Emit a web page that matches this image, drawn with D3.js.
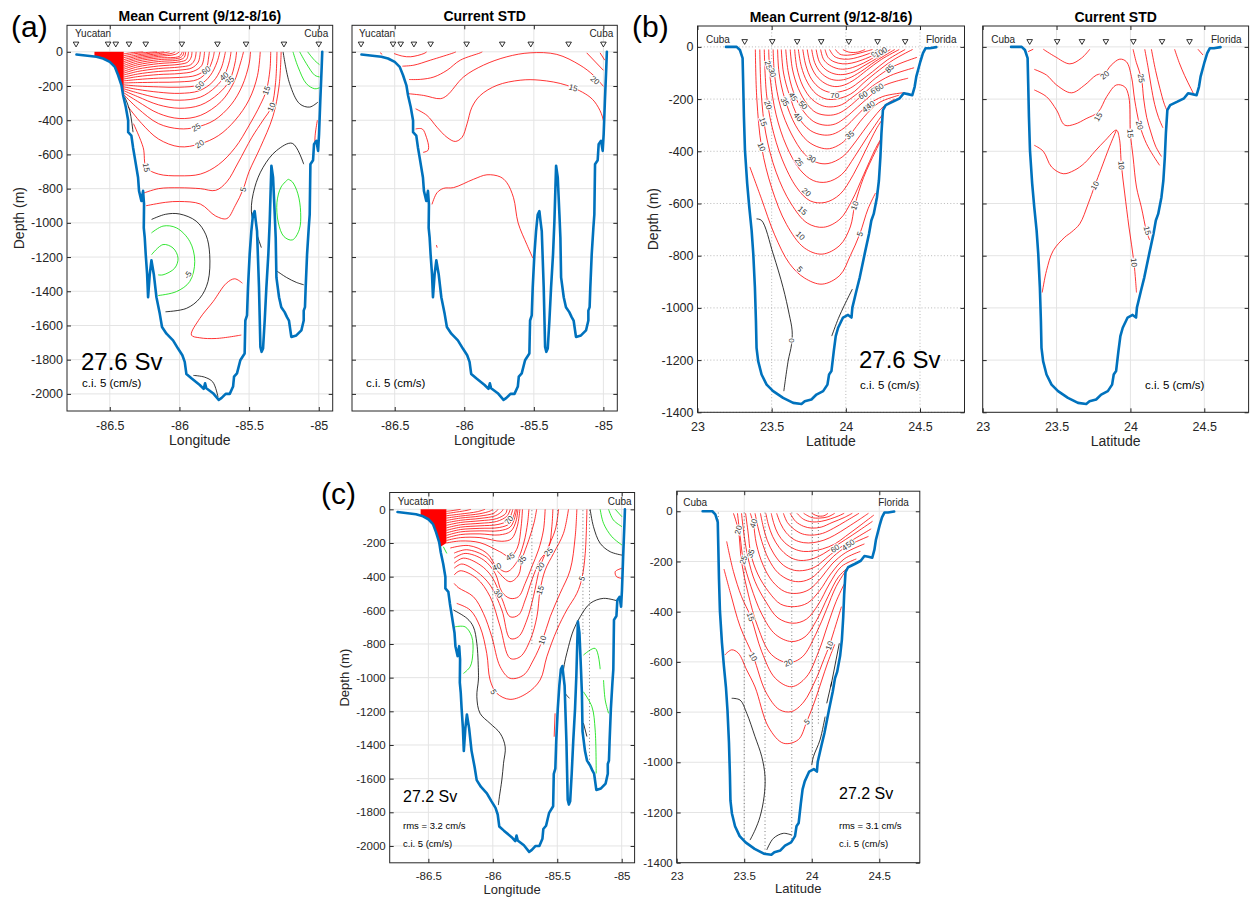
<!DOCTYPE html>
<html>
<head>
<meta charset="utf-8">
<script src="https://cdn.jsdelivr.net/npm/d3@7"></script>
<style>
  body { margin: 0; background: #fff; }
</style>
</head>
<body>
<script>
// ticks
const lonTicks = [-86.5, -86, -85.5, -85];
const latTicks = [23, 23.5, 24, 24.5];
const depthTicksYC = [0, -200, -400, -600, -800, -1000, -1200, -1400, -1600, -1800, -2000];
const depthTicksCF = [0, -200, -400, -600, -800, -1000, -1200, -1400];

// station positions along each section
const stationsYC = [-86.742, -86.512, -86.457, -86.362, -86.242, -85.983, -85.727, -85.522, -85.25, -85.0];
const stationsCF = [23.318, 23.504, 23.672, 23.834, 24.02, 24.214, 24.40];

// bottom topography [lon or lat, depth m]
const bathyYC = [[-86.739,-16],[-86.596,-29],[-86.548,-39],[-86.5,-59],[-86.464,-88],[-86.44,-137],[-86.416,-196],[-86.404,-255],[-86.385,-323],[-86.368,-402],[-86.368,-470],[-86.345,-490],[-86.333,-559],[-86.321,-617],[-86.297,-735],[-86.29,-813],[-86.273,-872],[-86.261,-813],[-86.254,-892],[-86.256,-1029],[-86.249,-1087],[-86.242,-1184],[-86.232,-1300],[-86.225,-1435],[-86.213,-1300],[-86.201,-1219],[-86.184,-1300],[-86.165,-1435],[-86.141,-1532],[-86.125,-1609],[-86.093,-1648],[-86.046,-1687],[-86.01,-1735],[-85.979,-1774],[-85.962,-1813],[-85.95,-1884],[-85.914,-1909],[-85.854,-1948],[-85.826,-1971],[-85.816,-1938],[-85.807,-1967],[-85.759,-1996],[-85.718,-2035],[-85.699,-2025],[-85.668,-2000],[-85.639,-2000],[-85.615,-1957],[-85.608,-1899],[-85.587,-1880],[-85.563,-1803],[-85.532,-1764],[-85.527,-1571],[-85.515,-1541],[-85.508,-1377],[-85.496,-1184],[-85.484,-1048],[-85.472,-951],[-85.46,-931],[-85.452,-990],[-85.443,-1048],[-85.429,-1377],[-85.419,-1725],[-85.41,-1754],[-85.4,-1735],[-85.388,-1571],[-85.376,-1377],[-85.362,-1184],[-85.352,-990],[-85.345,-800],[-85.34,-666],[-85.328,-735],[-85.316,-951],[-85.309,-1087],[-85.304,-1319],[-85.285,-1435],[-85.269,-1493],[-85.245,-1522],[-85.228,-1551],[-85.214,-1571],[-85.197,-1667],[-85.161,-1658],[-85.125,-1629],[-85.108,-1571],[-85.108,-1513],[-85.099,-1493],[-85.094,-1377],[-85.084,-1184],[-85.072,-1029],[-85.065,-951],[-85.06,-657],[-85.041,-634],[-85.034,-540],[-85.017,-520],[-85.005,-579],[-84.998,-481],[-84.989,-284],[-84.979,-88],[-84.975,0]];

const bathyCF = [[23.192,0],[23.264,0],[23.286,-12],[23.304,-43],[23.308,-140],[23.313,-268],[23.32,-396],[23.335,-524],[23.349,-614],[23.365,-704],[23.376,-793],[23.387,-922],[23.394,-1050],[23.398,-1153],[23.409,-1204],[23.432,-1255],[23.466,-1294],[23.51,-1319],[23.577,-1345],[23.645,-1364],[23.701,-1368],[23.723,-1358],[23.768,-1351],[23.802,-1332],[23.847,-1319],[23.876,-1294],[23.887,-1255],[23.903,-1242],[23.919,-1165],[23.932,-1108],[23.948,-1076],[23.981,-1037],[24.015,-1027],[24.038,-1037],[24.044,-999],[24.071,-935],[24.094,-883],[24.127,-793],[24.156,-717],[24.172,-665],[24.188,-640],[24.21,-576],[24.223,-512],[24.233,-422],[24.24,-332],[24.25,-242],[24.269,-223],[24.318,-210],[24.363,-197],[24.39,-178],[24.419,-181],[24.448,-185],[24.464,-153],[24.475,-114],[24.493,-76],[24.502,-57],[24.52,-24],[24.538,-5],[24.565,-5],[24.61,-1]];

// contours: [value cm/s, [[x, depth], ...]]
const meanYC = [
  [130, [[-86.40,-12],[-86.34,-5],[-86.26,0]]],
  [125, [[-86.40,-23],[-86.32,-11],[-86.22,-3],[-86.16,0]]],
  [120, [[-86.40,-34],[-86.3,-18],[-86.18,-6],[-86.11,0]]],
  [115, [[-86.40,-46],[-86.3,-26],[-86.15,-11],[-86.07,0]]],
  [110, [[-86.40,-57],[-86.3,-35],[-86.15,-19],[-86.05,-8],[-86.03,0]]],
  [105, [[-86.40,-68],[-86.3,-44],[-86.15,-27],[-86.03,-15],[-86.0,0]]],
  [100, [[-86.40,-80],[-86.3,-54],[-86.15,-36],[-86.0,-26],[-85.98,0]]],
  [95, [[-86.40,-91],[-86.3,-65],[-86.15,-46],[-86.0,-36],[-85.975,-20],[-85.968,0]]],
  [90, [[-86.40,-102],[-86.3,-76],[-86.15,-57],[-86.0,-47],[-85.965,-32],[-85.955,0]]],
  [85, [[-86.40,-114],[-86.3,-88],[-86.15,-69],[-86.0,-59],[-85.95,-45],[-85.935,0]]],
  [80, [[-86.40,-125],[-86.3,-101],[-86.15,-83],[-86.0,-73],[-85.94,-60],[-85.915,-30],[-85.91,0]]],
  [75, [[-86.40,-136],[-86.3,-115],[-86.15,-98],[-86.0,-89],[-85.92,-76],[-85.89,-45],[-85.88,0]]],
  [70, [[-86.40,-148],[-86.3,-130],[-86.15,-115],[-86.0,-107],[-85.91,-94],[-85.865,-60],[-85.85,0]]],
  [65, [[-86.40,-159],[-86.3,-145],[-86.15,-133],[-86.0,-127],[-85.9,-114],[-85.84,-80],[-85.82,0]]],
  [60, [[-86.40,-170],[-86.3,-162],[-86.15,-154],[-86.0,-150],[-85.88,-137],[-85.81,-100],[-85.79,-30],[-85.785,0]]],
  [55, [[-86.40,-182],[-86.3,-180],[-86.15,-178],[-86.0,-176],[-85.87,-162],[-85.8,-115],[-85.76,-40],[-85.75,0]]],
  [50, [[-86.40,-193],[-86.3,-200],[-86.15,-205],[-86.0,-207],[-85.855,-192],[-85.78,-140],[-85.73,-60],[-85.71,0]]],
  [45, [[-86.40,-205],[-86.3,-220],[-86.15,-236],[-86.0,-243],[-85.86,-228],[-85.76,-175],[-85.7,-95],[-85.67,0]]],
  [40, [[-86.40,-216],[-86.3,-240],[-86.15,-270],[-86.0,-283],[-85.85,-265],[-85.74,-205],[-85.68,-143],[-85.64,-50],[-85.63,0]]],
  [35, [[-86.40,-227],[-86.3,-262],[-86.15,-310],[-86.0,-330],[-85.85,-312],[-85.72,-245],[-85.64,-167],[-85.6,-60],[-85.59,0]]],
  [30, [[-86.40,-239],[-86.3,-290],[-86.15,-360],[-86.0,-390],[-85.85,-372],[-85.7,-290],[-85.61,-180],[-85.56,-60],[-85.54,0]]],
  [25, [[-86.40,-250],[-86.3,-330],[-86.15,-420],[-86.0,-450],[-85.88,-441],[-85.75,-400],[-85.63,-310],[-85.55,-200],[-85.5,-70],[-85.49,0]]],
  [20, [[-86.37,-320],[-86.27,-420],[-86.15,-510],[-86.0,-555],[-85.855,-539],[-85.72,-490],[-85.6,-400],[-85.5,-280],[-85.44,-140],[-85.42,0]]],
  [15, [[-86.33,-420],[-86.26,-560],[-86.237,-676],[-86.15,-715],[-86.0,-725],[-85.85,-715],[-85.72,-660],[-85.6,-560],[-85.5,-430],[-85.42,-310],[-85.376,-225],[-85.35,-100],[-85.345,0]]],
  [10, [[-86.27,-830],[-86.15,-800],[-86.0,-795],[-85.85,-800],[-85.74,-810],[-85.66,-760],[-85.58,-650],[-85.48,-500],[-85.4,-400],[-85.34,-323],[-85.31,-180],[-85.3,0]]],
  [5, [[-86.24,-900],[-86.1,-880],[-86.0,-875],[-85.85,-890],[-85.74,-960],[-85.66,-975],[-85.6,-900],[-85.543,-804],[-85.5,-700],[-85.42,-560],[-85.33,-380],[-85.285,-200],[-85.27,0]]],
  [0, [[-86.392,-265],[-86.357,-343],[-86.333,-470]]],
  [0, [[-85.256,0],[-85.209,-186],[-85.137,-304],[-85.065,-323],[-85.006,-294]]],
  [-5, [[-85.185,0],[-85.149,-88],[-85.089,-186],[-85.029,-216],[-84.994,-210]]],
  [-10, [[-85.137,0],[-85.089,-69],[-85.029,-137],[-84.994,-147]]],
  [-15, [[-85.08,0],[-85.03,-50],[-84.995,-75]]],
  [0, [[-85.108,-657],[-85.19,-535],[-85.304,-578],[-85.40,-676],[-85.46,-794],[-85.484,-931],[-85.45,-1050],[-85.412,-1145]]],
  [0, [[-85.304,-1280],[-85.232,-1319],[-85.161,-1348],[-85.108,-1362]]],
  [-5, [[-85.22,-745],[-85.27,-790],[-85.30,-880],[-85.29,-1000],[-85.25,-1080],[-85.19,-1100],[-85.14,-1040],[-85.13,-940],[-85.15,-830],[-85.19,-760],[-85.22,-745]]],
  [0, [[-86.2,-980],[-86.1,-950],[-86.0,-948],[-85.88,-990],[-85.81,-1070],[-85.783,-1184],[-85.795,-1343],[-85.854,-1441],[-85.95,-1500],[-86.1,-1520]]],
  [-5, [[-86.201,-1059],[-86.118,-1019],[-86.022,-1029],[-85.926,-1108],[-85.89,-1225],[-85.926,-1343],[-86.022,-1402],[-86.153,-1425]]],
  [-10, [[-86.2,-1186],[-86.118,-1127],[-86.046,-1147],[-86.01,-1206],[-86.034,-1265],[-86.118,-1304],[-86.153,-1304]]],
  [5, [[-85.548,-1353],[-85.603,-1327],[-85.663,-1353],[-85.759,-1461],[-85.854,-1559],[-85.914,-1656],[-85.854,-1672],[-85.735,-1676],[-85.556,-1656]]],
  [0, [[-85.90,-1892],[-85.82,-1902],[-85.76,-1931],[-85.723,-2019]]],
  [5, [[-85.03,-560],[-85.025,-480],[-85.01,-400]]]
];
const meanYCWedge = [[-86.61,0],[-86.40,0],[-86.40,-265],[-86.5,-265],[-86.61,-40]];

const stdYC = [
  [25, [[-86.605,-5],[-86.59,-15]]],
  [25, [[-86.505,-10],[-86.445,-25],[-86.385,-29],[-86.29,-10],[-86.27,0]]],
  [25, [[-86.445,-84],[-86.362,-78],[-86.244,-49],[-86.077,-6],[-86.06,0]]],
  [20, [[-86.397,-162],[-86.313,-161],[-86.218,-147],[-86.124,-108],[-86.029,-49],[-85.885,-6],[-85.87,0]]],
  [20, [[-86.4,-245],[-86.292,-255],[-86.172,-274],[-86.124,-255],[-86.005,-147],[-85.862,-78],[-85.694,-29],[-85.527,-6],[-85.335,-15],[-85.168,-78],[-85.072,-137],[-85.0,-202]]],
  [15, [[-86.35,-333],[-86.268,-372],[-86.196,-441],[-86.124,-500],[-86.065,-524],[-86.016,-500],[-85.98,-421],[-85.945,-324],[-85.885,-255],[-85.765,-196],[-85.598,-166],[-85.455,-166],[-85.263,-196],[-85.096,-265],[-85.037,-324],[-85.0,-402],[-84.996,-519],[-85.012,-578]]],
  [15, [[-86.35,-451],[-86.302,-451],[-86.272,-500],[-86.256,-559],[-86.263,-578],[-86.296,-588]]],
  [25, [[-85.12,-6],[-85.0,-108]]],
  [30, [[-85.024,-6],[-84.99,-49]]],
  [10, [[-86.232,-892],[-86.196,-824],[-86.148,-798],[-86.077,-794],[-85.933,-745],[-85.837,-719],[-85.742,-731],[-85.694,-765],[-85.646,-853],[-85.613,-1000],[-85.55,-1127],[-85.507,-1206]]],
  [10, [[-86.2,-1130],[-86.195,-1145]]]
];

const meanCF = [
  [5, [[23.353,-460],[23.43,-580],[23.52,-720],[23.62,-830],[23.72,-885],[23.84,-909],[23.96,-875],[24.03,-800],[24.094,-717],[24.15,-620],[24.2,-560]]],
  [10, [[23.39,-10],[23.4,-200],[23.432,-383],[23.5,-540],[23.6,-680],[23.72,-770],[23.84,-794],[23.96,-760],[24.03,-690],[24.06,-608],[24.12,-500],[24.2,-400],[24.26,-330]]],
  [15, [[23.42,-10],[23.43,-180],[23.46,-330],[23.53,-480],[23.63,-600],[23.74,-675],[23.85,-691],[23.96,-660],[24.04,-590],[24.12,-490],[24.2,-390],[24.27,-320]]],
  [20, [[23.45,-10],[23.465,-180],[23.5,-300],[23.57,-430],[23.67,-540],[23.76,-590],[23.86,-596],[23.96,-565],[24.05,-490],[24.13,-400],[24.21,-310],[24.28,-250]]],
  [25, [[23.48,-10],[23.49,-120],[23.53,-260],[23.6,-380],[23.69,-470],[23.78,-512],[23.87,-518],[23.97,-490],[24.06,-420],[24.15,-340],[24.24,-265],[24.3,-220]]],
  [30, [[23.51,-10],[23.52,-110],[23.56,-230],[23.63,-330],[23.72,-410],[23.8,-442],[23.88,-447],[23.98,-420],[24.07,-360],[24.16,-290],[24.26,-225],[24.33,-200]]],
  [35, [[23.54,-10],[23.55,-100],[23.589,-200],[23.66,-300],[23.74,-360],[23.82,-385],[23.89,-390],[23.97,-370],[24.026,-338],[24.12,-270],[24.22,-215],[24.36,-185]]],
  [40, [[23.565,-10],[23.58,-100],[23.62,-185],[23.678,-268],[23.76,-320],[23.84,-337],[23.91,-335],[23.99,-310],[24.08,-260],[24.15,-222],[24.25,-190],[24.4,-175]]],
  [45, [[23.595,-10],[23.61,-90],[23.645,-170],[23.7,-235],[23.78,-285],[23.86,-300],[23.93,-295],[24.0,-270],[24.08,-230],[24.14,-200],[24.25,-150],[24.42,-120]]],
  [50, [[23.625,-10],[23.64,-85],[23.68,-160],[23.74,-220],[23.8,-252],[23.88,-262],[23.95,-255],[24.02,-230],[24.1,-190],[24.18,-150],[24.3,-110],[24.46,-80]]],
  [55, [[23.655,-10],[23.67,-80],[23.71,-150],[23.77,-200],[23.84,-225],[23.9,-230],[23.97,-222],[24.04,-195],[24.12,-160],[24.2,-120],[24.32,-75],[24.48,-40]]],
  [60, [[23.68,-10],[23.7,-75],[23.74,-135],[23.8,-180],[23.87,-200],[23.93,-200],[24.0,-190],[24.06,-170],[24.116,-140],[24.2,-100],[24.32,-50],[24.45,-10]]],
  [65, [[23.71,-10],[23.73,-70],[23.77,-125],[23.83,-160],[23.9,-175],[23.96,-172],[24.03,-158],[24.1,-130],[24.18,-95],[24.28,-50],[24.4,-10]]],
  [70, [[23.74,-10],[23.76,-65],[23.8,-110],[23.86,-140],[23.925,-152],[23.99,-146],[24.06,-125],[24.14,-90],[24.24,-48],[24.36,-10]]],
  [75, [[23.77,-10],[23.79,-60],[23.83,-98],[23.89,-122],[23.95,-128],[24.02,-120],[24.1,-95],[24.2,-55],[24.33,-10]]],
  [80, [[23.80,-10],[23.82,-55],[23.86,-85],[23.92,-103],[23.98,-106],[24.05,-96],[24.13,-70],[24.22,-40],[24.3,-10]]],
  [85, [[23.83,-10],[23.85,-48],[23.89,-70],[23.95,-84],[24.01,-84],[24.08,-72],[24.16,-50],[24.27,-10]]],
  [90, [[23.86,-10],[23.88,-40],[23.92,-57],[23.98,-65],[24.04,-62],[24.11,-50],[24.2,-28],[24.25,-10]]],
  [95, [[23.89,-10],[23.92,-35],[23.96,-45],[24.02,-47],[24.08,-40],[24.15,-27],[24.22,-10]]],
  [100, [[23.93,-10],[23.96,-28],[24.01,-32],[24.07,-27],[24.13,-18],[24.18,-10]]],
  [105, [[23.98,-10],[24.02,-20],[24.08,-20],[24.13,-10]]],
  [0, [[23.398,-659],[23.432,-665],[23.51,-793],[23.577,-922],[23.618,-1024],[23.638,-1088],[23.634,-1140],[23.611,-1204],[23.582,-1319]]],
  [0, [[24.217,-531],[24.194,-640]]],
  [0, [[24.044,-928],[23.99,-990],[23.95,-1040],[23.905,-1108]]]
];

const stdCF = [
  [25, [[23.308,-18],[23.342,-9]]],
  [25, [[23.41,-9],[23.489,-37],[23.59,-65],[23.669,-43],[23.725,-9]]],
  [20, [[23.349,-86],[23.432,-108],[23.5,-146],[23.601,-176],[23.691,-146],[23.77,-108],[23.826,-100],[23.87,-70],[23.928,-47],[23.973,-57],[24.007,-114],[24.029,-204],[24.063,-300],[24.108,-370],[24.153,-415],[24.198,-454]]],
  [15, [[23.349,-165],[23.432,-191],[23.5,-242],[23.556,-300],[23.624,-296],[23.7,-275],[23.781,-250],[23.84,-190],[23.905,-146],[23.961,-153],[23.989,-191],[24.0,-332],[24.018,-422],[24.041,-537],[24.074,-614],[24.108,-704],[24.13,-740]]],
  [10, [[23.349,-377],[23.41,-400],[23.466,-460],[23.545,-486],[23.62,-473],[23.69,-445],[23.76,-400],[23.83,-358],[23.905,-319],[23.925,-350],[23.939,-454],[23.961,-560],[23.99,-690],[24.024,-826],[24.041,-941]]],
  [10, [[23.905,-319],[23.86,-380],[23.8,-470],[23.759,-531],[23.714,-601],[23.657,-678],[23.6,-710],[23.556,-729],[23.477,-781],[23.432,-857],[23.403,-941]]],
  [25, [[24.018,-9],[24.04,-60],[24.074,-120],[24.09,-200],[24.11,-270],[24.14,-330],[24.17,-380],[24.21,-420]]],
  [30, [[24.097,-9],[24.12,-80],[24.14,-150],[24.164,-220],[24.19,-270],[24.22,-310]]],
  [35, [[24.142,-9],[24.17,-90],[24.2,-160],[24.23,-220],[24.26,-260]]],
  [40, [[24.299,-9],[24.33,-60],[24.367,-110],[24.41,-160],[24.446,-200]]],
  [45, [[24.457,-9],[24.491,-31]]]
];

const modelYC = [
  [110, [[-86.36,-12],[-86.3,-6],[-86.25,0]]],
  [105, [[-86.36,-25],[-86.28,-16],[-86.2,-6],[-86.17,0]]],
  [100, [[-86.36,-38],[-86.25,-28],[-86.12,-14],[-86.06,0]]],
  [95, [[-86.36,-52],[-86.25,-40],[-86.1,-26],[-86.02,-10],[-86.0,0]]],
  [90, [[-86.36,-66],[-86.25,-52],[-86.1,-40],[-85.99,-22],[-85.96,0]]],
  [85, [[-86.36,-80],[-86.25,-65],[-86.1,-54],[-85.98,-38],[-85.93,-12],[-85.92,0]]],
  [80, [[-86.36,-95],[-86.25,-78],[-86.1,-68],[-85.97,-55],[-85.9,-25],[-85.89,0]]],
  [75, [[-86.36,-110],[-86.25,-92],[-86.1,-83],[-85.97,-72],[-85.89,-40],[-85.865,0]]],
  [70, [[-86.36,-125],[-86.25,-106],[-86.1,-98],[-85.96,-90],[-85.88,-64],[-85.845,0]]],
  [65, [[-86.36,-140],[-86.25,-120],[-86.1,-113],[-85.95,-108],[-85.87,-85],[-85.835,-30],[-85.825,0]]],
  [60, [[-86.36,-155],[-86.25,-134],[-86.1,-128],[-85.95,-127],[-85.865,-105],[-85.83,-50],[-85.815,0]]],
  [55, [[-86.36,-170],[-86.25,-150],[-86.1,-146],[-85.95,-152],[-85.86,-130],[-85.82,-70],[-85.805,0]]],
  [50, [[-86.36,-185],[-86.25,-168],[-86.1,-168],[-85.93,-190],[-85.855,-175],[-85.81,-100],[-85.79,0]]],
  [45, [[-86.36,-200],[-86.25,-188],[-86.1,-198],[-85.95,-250],[-85.866,-281],[-85.81,-230],[-85.78,-100],[-85.77,0]]],
  [40, [[-86.33,-230],[-86.189,-215],[-86.047,-260],[-85.969,-341],[-85.892,-371],[-85.82,-320],[-85.76,-200],[-85.73,-80],[-85.72,0]]],
  [35, [[-86.3,-260],[-86.202,-240],[-86.047,-285],[-85.96,-370],[-85.866,-430],[-85.8,-390],[-85.775,-301],[-85.72,-180],[-85.68,-80],[-85.66,0]]],
  [30, [[-86.3,-290],[-86.215,-262],[-86.073,-300],[-85.982,-380],[-85.93,-490],[-85.866,-529],[-85.801,-519],[-85.749,-440],[-85.697,-341],[-85.646,-242],[-85.607,-123],[-85.594,0]]],
  [25, [[-86.3,-320],[-86.228,-290],[-86.099,-330],[-86.008,-400],[-85.93,-530],[-85.866,-638],[-85.801,-628],[-85.749,-539],[-85.697,-420],[-85.633,-301],[-85.568,-232],[-85.542,-103],[-85.534,0]]],
  [20, [[-86.3,-350],[-86.241,-325],[-86.125,-370],[-86.021,-450],[-85.93,-598],[-85.866,-767],[-85.801,-757],[-85.736,-658],[-85.685,-519],[-85.633,-341],[-85.581,-242],[-85.516,-123],[-85.49,0]]],
  [15, [[-86.3,-390],[-86.254,-365],[-86.125,-410],[-86.021,-519],[-85.943,-698],[-85.866,-885],[-85.788,-876],[-85.71,-777],[-85.658,-638],[-85.633,-480],[-85.594,-361],[-85.529,-262],[-85.452,-143],[-85.413,0]]],
  [10, [[-86.3,-440],[-86.268,-465],[-86.151,-519],[-86.073,-618],[-86.008,-757],[-85.943,-935],[-85.866,-1004],[-85.762,-985],[-85.685,-895],[-85.615,-777],[-85.555,-638],[-85.478,-499],[-85.4,-361],[-85.361,-163],[-85.348,0]]],
  [5, [[-86.28,-559],[-86.176,-598],[-86.099,-698],[-86.047,-856],[-86.021,-1014],[-85.969,-1093],[-85.866,-1129],[-85.736,-1093],[-85.633,-1014],[-85.581,-876],[-85.503,-717],[-85.426,-598],[-85.348,-499],[-85.309,-410],[-85.283,-262],[-85.27,0]]],
  [0, [[-86.306,-598],[-86.2,-648],[-86.151,-698],[-86.124,-796],[-86.112,-955],[-86.112,-1014],[-86.124,-1113],[-86.099,-1212],[-86.021,-1272],[-85.943,-1331],[-85.904,-1411],[-85.917,-1509],[-85.93,-1608],[-85.949,-1708],[-85.957,-1757]]],
  [-5, [[-86.293,-698],[-86.215,-698],[-86.163,-757],[-86.155,-856],[-86.176,-935],[-86.228,-975]]],
  [-5, [[-86.384,-222],[-86.357,-262]]],
  [0, [[-85.012,-549],[-85.141,-529],[-85.245,-559],[-85.322,-638],[-85.374,-717],[-85.413,-816],[-85.452,-955],[-85.452,-1074],[-85.405,-1123]]],
  [0, [[-85.245,0],[-85.219,-103],[-85.167,-202],[-85.089,-252],[-84.998,-272]]],
  [-5, [[-85.167,0],[-85.141,-83],[-85.076,-163],[-84.998,-212]]],
  [-10, [[-85.102,0],[-85.064,-64],[-84.998,-103]]],
  [-15, [[-85.05,0],[-84.998,-44]]],
  [5, [[-84.998,-350],[-85.05,-370],[-85.04,-400],[-84.998,-410]]],
  [-5, [[-85.297,-866],[-85.206,-826],[-85.167,-950]]],
  [-5, [[-85.297,-1084],[-85.231,-1173],[-85.206,-1311],[-85.198,-1569]]],
  [-5, [[-85.141,-1014],[-85.128,-1133],[-85.102,-1212]]],
  [0, [[-85.297,-1270],[-85.27,-1350]]],
  [5, [[-85.517,-1212],[-85.524,-1351]]]
];
const modelYCWedge = [[-86.56,0],[-86.36,0],[-86.36,-200],[-86.42,-230],[-86.56,-30]];

const modelCF = [
  [5, [[23.357,-572],[23.407,-552],[23.456,-565],[23.518,-632],[23.58,-700],[23.68,-860],[23.79,-924],[23.9,-910],[23.963,-838],[24.02,-760],[24.07,-680],[24.12,-600],[24.17,-530]]],
  [10, [[23.35,-230],[23.4,-330],[23.47,-460],[23.567,-579],[23.66,-720],[23.76,-790],[23.85,-798],[23.94,-760],[24.03,-670],[24.09,-590],[24.13,-535],[24.18,-450],[24.22,-380]]],
  [15, [[23.37,-120],[23.42,-240],[23.48,-340],[23.548,-420],[23.63,-560],[23.73,-665],[23.85,-699],[23.96,-660],[24.05,-560],[24.12,-450],[24.18,-360],[24.24,-290]]],
  [20, [[23.42,-8],[23.456,-74],[23.48,-200],[23.53,-330],[23.6,-460],[23.7,-570],[23.827,-603],[23.93,-580],[24.03,-490],[24.11,-390],[24.18,-300],[24.26,-230]]],
  [25, [[23.45,-8],[23.47,-100],[23.493,-194],[23.55,-300],[23.63,-410],[23.73,-490],[23.85,-519],[23.95,-500],[24.04,-430],[24.12,-340],[24.2,-260],[24.3,-210]]],
  [30, [[23.48,-8],[23.5,-100],[23.53,-190],[23.58,-280],[23.66,-360],[23.75,-425],[23.86,-446],[23.96,-430],[24.05,-370],[24.13,-290],[24.22,-220],[24.33,-190]]],
  [35, [[23.51,-8],[23.53,-90],[23.548,-168],[23.6,-250],[23.68,-320],[23.77,-370],[23.87,-380],[23.97,-365],[24.06,-315],[24.14,-250],[24.24,-190],[24.36,-160]]],
  [40, [[23.545,-8],[23.567,-48],[23.59,-130],[23.64,-215],[23.71,-280],[23.8,-320],[23.89,-327],[23.98,-312],[24.07,-265],[24.15,-210],[24.25,-165],[24.39,-130]]],
  [45, [[23.58,-8],[23.6,-60],[23.63,-120],[23.68,-190],[23.75,-245],[23.84,-275],[23.92,-280],[24.0,-265],[24.08,-225],[24.16,-180],[24.26,-140],[24.42,-100]]],
  [50, [[23.62,-8],[23.64,-60],[23.67,-115],[23.72,-170],[23.79,-215],[23.87,-235],[23.95,-235],[24.03,-220],[24.1,-190],[24.18,-155],[24.285,-120],[24.44,-70]]],
  [55, [[23.66,-8],[23.68,-55],[23.71,-100],[23.76,-145],[23.83,-180],[23.9,-195],[23.98,-193],[24.05,-180],[24.12,-158],[24.2,-130],[24.3,-95],[24.45,-40]]],
  [60, [[23.7,-8],[23.72,-50],[23.75,-90],[23.8,-125],[23.87,-150],[23.94,-160],[24.01,-158],[24.08,-150],[24.172,-130],[24.25,-100],[24.35,-60],[24.46,-15]]],
  [65, [[23.74,-8],[23.77,-50],[23.81,-85],[23.87,-113],[23.94,-125],[24.01,-125],[24.09,-115],[24.17,-95],[24.26,-65],[24.36,-30],[24.42,-8]]],
  [70, [[23.79,-8],[23.82,-45],[23.87,-72],[23.93,-90],[24.0,-95],[24.08,-88],[24.16,-68],[24.25,-40],[24.35,-8]]],
  [75, [[23.84,-8],[23.88,-40],[23.94,-60],[24.0,-67],[24.07,-63],[24.15,-45],[24.24,-25],[24.3,-8]]],
  [80, [[23.89,-8],[23.94,-32],[24.0,-42],[24.07,-40],[24.14,-30],[24.2,-18],[24.24,-8]]],
  [85, [[23.94,-8],[24.0,-25],[24.06,-27],[24.12,-22],[24.17,-8]]],
  [90, [[24.0,-8],[24.04,-18],[24.09,-18],[24.12,-8]]],
  [0, [[23.407,-745],[23.469,-752],[23.519,-805],[23.58,-898],[23.63,-978],[23.654,-1057],[23.647,-1137],[23.617,-1217],[23.58,-1270],[23.543,-1310]]],
  [0, [[23.667,-1349],[23.716,-1303],[23.79,-1283],[23.852,-1290]]],
  [0, [[24.204,-526],[24.141,-699]]],
  [0, [[24.148,-679],[24.111,-765]]],
  [0, [[24.099,-818],[24.061,-911],[24.012,-978],[24.0,-1011]]]
];

// contour labels: [text, x, depth, rotation deg]
const labMeanYC = [["60",-85.81,-108,-35],["50",-85.855,-196,-45],["40",-85.68,-143,-40],["35",-85.64,-167,-40],["25",-85.88,-441,-30],["20",-85.855,-539,-35],["15",-86.237,-676,80],["15",-85.376,-225,-70],["10",-85.34,-323,-65],["5",-85.543,-804,-75],["-5",-85.94,-1304,-55]];
const labStdYC = [["20",-85.06,-166,40],["15",-85.216,-210,15]];
const labMeanCF = [["25",23.478,-70,75],["30",23.505,-98,75],["20",23.477,-223,70],["15",23.443,-287,70],["10",23.432,-383,65],["35",23.589,-210,60],["45",23.645,-191,55],["50",23.712,-223,45],["40",23.678,-268,50],["70",23.925,-185,0],["30",23.768,-428,30],["25",23.685,-441,55],["20",23.735,-556,40],["15",23.708,-627,40],["10",23.694,-723,45],["5",23.69,-851,45],["35",24.026,-338,-40],["10",24.06,-608,-70],["5",24.094,-717,-70],["60",24.116,-185,-30],["65",24.195,-165,-35],["60",24.225,-155,-35],["45",24.14,-235,-35],["40",24.165,-222,-35],["85",24.295,-82,-45],["95",24.2,-25,-30],["100",24.235,-20,-30],["0",23.634,-1125,90]];
const labStdCF = [["20",23.826,-108,-40],["15",23.781,-268,-60],["25",24.074,-120,80],["20",24.063,-300,75],["15",24.0,-332,85],["10",23.939,-454,85],["10",23.759,-531,-60],["10",24.024,-826,85],["15",24.115,-704,75]];
const labModelYC = [["70",-85.875,-64,-50],["45",-85.866,-281,-30],["40",-85.969,-341,-20],["35",-85.775,-301,-50],["25",-85.568,-252,-45],["20",-85.633,-341,-50],["15",-85.633,-480,-70],["30",-85.957,-499,50],["10",-85.615,-777,-70],["5",-85.309,-410,-70],["5",-85.995,-1084,60]];
const labModelCF = [["20",23.456,-74,-75],["40",23.567,-48,-70],["35",23.548,-168,-70],["25",23.493,-194,-70],["15",23.548,-420,70],["10",23.567,-579,60],["20",23.827,-603,-25],["10",24.13,-535,-70],["60",24.172,-148,-35],["45",24.255,-140,-35],["50",24.285,-128,-35],["5",23.963,-838,-45]];

// mooring lines in the model sections: [position, deepest depth]
const mooringsYC = [[-86.0,-800],[-85.697,-800],[-85.498,-750],[-85.301,-750],[-85.25,-1800]];
const mooringsCF = [[23.308,-420],[23.5,-1400],[23.654,-1400],[23.852,-1400],[24.005,-1000],[24.049,-850]];

const svg = d3.select("body").append("svg")
  .attr("width", 1250).attr("height", 897)
  .style("font-family", "'Liberation Sans', Arial, Helvetica, sans-serif");

function drawPanel(p) {
  const [L, R, T, B] = p.box;
  const x = d3.scaleLinear().domain(p.xDom).range([L, R]);
  const y = d3.scaleLinear().domain(p.yDom).range([B, T]);
  const g = svg.append("g");
  const ink = "#262626";

  // grid
  const grid = g.append("g")
    .attr("stroke", p.dotGrid ? "#9a9a9a" : "#e4e4e4")
    .attr("stroke-width", p.dotGrid ? 0.7 : 1)
    .attr("stroke-dasharray", p.dotGrid ? "1,2.2" : null);
  grid.selectAll("line.gx").data(p.xTicks).join("line").attr("class", "gx")
    .attr("x1", d => x(d)).attr("x2", d => x(d)).attr("y1", T).attr("y2", B);
  grid.selectAll("line.gy").data(p.yTicks).join("line").attr("class", "gy")
    .attr("x1", L).attr("x2", R).attr("y1", d => y(d)).attr("y2", d => y(d));

  // water area used as clip
  const id = "clip-" + p.id;
  const last = p.bathy[p.bathy.length - 1];
  const water = p.bathy.concat([[last[0], 3], [p.bathy[0][0], 3]]);
  const lin = d3.line().x(d => x(d[0])).y(d => y(d[1]));
  g.append("clipPath").attr("id", id).append("path").attr("d", lin(water) + "Z");

  const cg = g.append("g").attr("clip-path", `url(#${id})`);
  if (p.wedge) {
    cg.append("path").attr("d", lin(p.wedge) + "Z").attr("fill", "#ff0000");
  }
  const curve = d3.line().x(d => x(d[0])).y(d => y(d[1])).curve(d3.curveCatmullRom.alpha(0.5));
  cg.selectAll("path.c").data(p.contours).join("path").attr("class", "c")
    .attr("d", d => curve(d[1]))
    .attr("fill", "none")
    .attr("stroke", d => d[0] > 0 ? "#ff0000" : d[0] < 0 ? "#00e000" : "#000")
    .attr("stroke-width", 0.8);

  if (p.moorings) {
    cg.selectAll("line.m").data(p.moorings).join("line").attr("class", "m")
      .attr("x1", d => x(d[0])).attr("x2", d => x(d[0]))
      .attr("y1", y(-5)).attr("y2", d => y(d[1]))
      .attr("stroke", "#444").attr("stroke-width", 0.7).attr("stroke-dasharray", "1,2.5");
  }

  // bottom topography
  g.append("path").attr("d", lin(p.bathy))
    .attr("fill", "none").attr("stroke", "#0072bd").attr("stroke-width", 2.6)
    .attr("stroke-linejoin", "round").attr("stroke-linecap", "round");

  // contour labels
  g.selectAll("text.cl").data(p.labels).join("text").attr("class", "cl")
    .attr("transform", d => `translate(${x(d[1])},${y(d[2])}) rotate(${d[3]})`)
    .attr("text-anchor", "middle").attr("dy", "0.35em")
    .attr("font-size", 8).attr("fill", "#333")
    .attr("stroke", "#fff").attr("stroke-width", 2).attr("paint-order", "stroke")
    .text(d => d[0]);

  // stations
  if (p.stations) {
    g.selectAll("path.st").data(p.stations).join("path").attr("class", "st")
      .attr("transform", d => `translate(${x(d)},${p.stationY})`)
      .attr("d", "M-2.8,-2.2L2.8,-2.2L0,2.6Z")
      .attr("fill", "#fff").attr("stroke", "#000").attr("stroke-width", 0.8);
  }
  // section end names
  g.append("text").attr("x", L + p.endDx[0]).attr("y", p.endY).attr("font-size", p.endFs).attr("fill", ink).text(p.ends[0]);
  g.append("text").attr("x", R - p.endDx[1]).attr("y", p.endY).attr("font-size", p.endFs).attr("fill", ink)
    .attr("text-anchor", "end").text(p.ends[1]);

  // notes
  p.notes.forEach(n => {
    g.append("text").attr("x", n[1]).attr("y", n[2]).attr("font-size", n[3]).attr("fill", "#000").text(n[0]);
  });

  // axes
  const fs = p.tickFs;
  const fmt = d => String(d);
  const bx = g.append("g").attr("transform", `translate(0,${B})`)
    .call(d3.axisBottom(x).tickValues(p.xTicks).tickFormat(fmt).tickSizeInner(-4).tickSizeOuter(0).tickPadding(p.xPad));
  const tx = g.append("g").attr("transform", `translate(0,${T})`)
    .call(d3.axisTop(x).tickValues(p.xTicks).tickFormat(() => "").tickSizeInner(-4).tickSizeOuter(0));
  const ly = g.append("g").attr("transform", `translate(${L},0)`)
    .call(d3.axisLeft(y).tickValues(p.yTicks).tickFormat(p.yLabels ? fmt : () => "").tickSizeInner(-4).tickSizeOuter(0).tickPadding(4));
  const ry = g.append("g").attr("transform", `translate(${R},0)`)
    .call(d3.axisRight(y).tickValues(p.yTicks).tickFormat(() => "").tickSizeInner(-4).tickSizeOuter(0));
  [bx, tx, ly, ry].forEach(a => {
    a.attr("font-size", fs).attr("font-family", null).attr("color", ink);
    a.select(".domain").remove();
  });
  g.append("rect").attr("x", L).attr("y", T).attr("width", R - L).attr("height", B - T)
    .attr("fill", "none").attr("stroke", ink).attr("stroke-width", 1);

  // titles
  if (p.title) {
    g.append("text").attr("x", (L + R) / 2).attr("y", p.titleY).attr("text-anchor", "middle")
      .attr("font-size", 14).attr("font-weight", "bold").attr("fill", "#000").text(p.title);
  }
  g.append("text").attr("x", (L + R) / 2).attr("y", p.xLabelY).attr("text-anchor", "middle")
    .attr("font-size", p.axFs).attr("fill", ink).text(p.xLabel);
  if (p.yLabelX) {
    g.append("text").attr("transform", `translate(${p.yLabelX},${(T + B) / 2}) rotate(-90)`)
      .attr("text-anchor", "middle").attr("font-size", p.axFs).attr("fill", ink).text("Depth (m)");
  }
}

const lonDom = [-86.807, -84.9];
const latDom = [23, 24.8];

drawPanel({ id: "a1", box: [67, 332.7, 25.3, 411], xDom: lonDom, yDom: [-2100, 155],
  xTicks: lonTicks, yTicks: depthTicksYC, yLabels: true, bathy: bathyYC, contours: meanYC, wedge: meanYCWedge,
  labels: labMeanYC, stations: stationsYC, stationY: 44.3, ends: ["Yucatan", "Cuba"], endDx: [8, 4.5], endY: 37, endFs: 10,
  notes: [["27.6 Sv", 81, 370, 24], ["c.i. 5 (cm/s)", 82, 387, 11.5]],
  tickFs: 12.5, xPad: 10, axFs: 14, title: "Mean Current (9/12-8/16)", titleY: 20.5,
  xLabel: "Longitude", xLabelY: 445, yLabelX: 24 });

drawPanel({ id: "a2", box: [352, 617.3, 25.3, 411], xDom: lonDom, yDom: [-2100, 155],
  xTicks: lonTicks, yTicks: depthTicksYC, yLabels: false, bathy: bathyYC, contours: stdYC,
  labels: labStdYC, stations: stationsYC, stationY: 44.3, ends: ["Yucatan", "Cuba"], endDx: [7, 4], endY: 37, endFs: 10,
  notes: [["c.i. 5 (cm/s)", 366, 387, 11.5]],
  tickFs: 12.5, xPad: 10, axFs: 14, title: "Current STD", titleY: 20.5,
  xLabel: "Longitude", xLabelY: 445 });

drawPanel({ id: "b1", box: [697.5, 964.5, 26, 412.3], xDom: latDom, yDom: [-1400, 80],
  xTicks: latTicks, yTicks: depthTicksCF, yLabels: true, dotGrid: true, bathy: bathyCF, contours: meanCF,
  labels: labMeanCF, stations: stationsCF, stationY: 41.8, ends: ["Cuba", "Florida"], endDx: [8.5, 8], endY: 43, endFs: 10,
  notes: [["27.6 Sv", 859, 368, 24], ["c.i. 5 (cm/s)", 860, 389, 11.5]],
  tickFs: 12.5, xPad: 10, axFs: 14, title: "Mean Current (9/12-8/16)", titleY: 21.5,
  xLabel: "Latitude", xLabelY: 446, yLabelX: 658 });

drawPanel({ id: "b2", box: [982.7, 1248.6, 26, 412.3], xDom: latDom, yDom: [-1400, 80],
  xTicks: latTicks, yTicks: depthTicksCF, yLabels: false, bathy: bathyCF, contours: stdCF,
  labels: labStdCF, stations: stationsCF, stationY: 41.8, ends: ["Cuba", "Florida"], endDx: [8.5, 7], endY: 43, endFs: 10,
  notes: [["c.i. 5 (cm/s)", 1145, 389, 11.5]],
  tickFs: 12.5, xPad: 10, axFs: 14, title: "Current STD", titleY: 21.5,
  xLabel: "Latitude", xLabelY: 446 });

drawPanel({ id: "c1", box: [389.7, 634.6, 492.5, 862.8], xDom: [-86.8, -84.9], yDom: [-2100, 100],
  xTicks: lonTicks, yTicks: depthTicksYC, yLabels: true, bathy: bathyYC, contours: modelYC, wedge: modelYCWedge,
  labels: labModelYC, moorings: mooringsYC, ends: ["Yucatan", "Cuba"], endDx: [8, 3], endY: 505, endFs: 10,
  notes: [["27.2 Sv", 403, 802, 16], ["rms = 3.2 cm/s", 403, 829, 9.5], ["c.i. 5 (cm/s)", 403, 847, 9.5]],
  tickFs: 11.5, xPad: 9, axFs: 13,
  xLabel: "Longitude", xLabelY: 894, yLabelX: 349 });

drawPanel({ id: "c2", box: [676.7, 919.8, 491.2, 862.7], xDom: latDom, yDom: [-1400, 80],
  xTicks: latTicks, yTicks: depthTicksCF, yLabels: true, bathy: bathyCF, contours: modelCF,
  labels: labModelCF, moorings: mooringsCF, ends: ["Cuba", "Florida"], endDx: [6.5, 11], endY: 505.7, endFs: 10,
  notes: [["27.2 Sv", 839, 799, 16], ["rms = 3.1 cm/s", 839, 829, 9.5], ["c.i. 5 (cm/s)", 839, 847, 9.5]],
  tickFs: 11.5, xPad: 9, axFs: 13,
  xLabel: "Latitude", xLabelY: 893 });

// panel letters
[["(a)", 11, 37], ["(b)", 632, 37], ["(c)", 321, 504]].forEach(t => {
  svg.append("text").attr("x", t[1]).attr("y", t[2]).attr("font-size", 30).attr("fill", "#000").text(t[0]);
});
</script>
</body>
</html>
